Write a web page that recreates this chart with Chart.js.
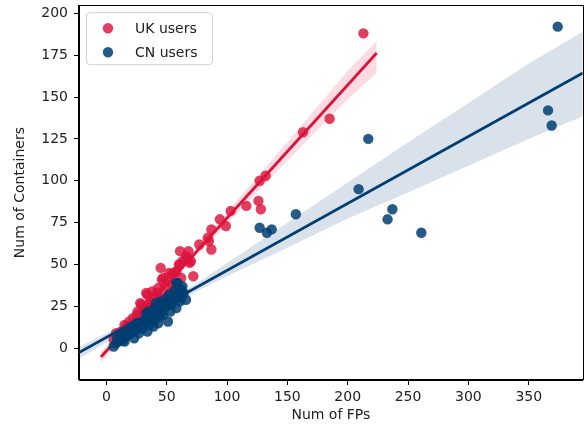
<!DOCTYPE html>
<html>
<head>
<meta charset="utf-8">
<script src="https://cdn.jsdelivr.net/npm/chart.js@4.4.1/dist/chart.umd.min.js"></script>
<style>
  html, body { margin: 0; padding: 0; background: #fff; }
  #wrap { width: 588px; height: 432px; }
</style>
</head>
<body>
<div id="wrap"><canvas id="c" width="588" height="432"></canvas></div>
<script>
// Number of false positives vs number of containers, per user group
const ukUsers = [
  [213,188],[185,137],[163,129],[132,103],[127,100],[126,88],[128,83],[116,85],
  [103,82],[94,77],[99,73],[87,71],[84,66],[85,64],[77,62],[87,59],[67,54],
  [61,58],[68,58],[69,51],[61,50],[45,48],[54,44],[72,43],[63,52],[70,52],
  [47,42],[56,45],[62,42],[43,36],[34,32],[29,26],[46,41],[60,50],[66,55],
  [52,45],[33,33],[28,27],[39,24],[19,16],[17,13],[8,9],[25,20],[22,18],
  [12,10],[15,14],[30,22],[36,28],[40,30],[42,33],[48,36],[50,40],[55,38],
  [58,46],[38,34],[44,30],[32,24],[20,12],[10,7],[6,5],[26,22],[35,26],
  [48,30],[53,33],[57,36]
];
const cnUsers = [
  [374,192],[366,142],[369,133],[217,125],[209,95],[157,80],[237,83],[233,77],
  [261,69],[127,72],[137,71],[133,69],[51,16],
  [59,39],[62,30],[54,26],[46,22],[34,10],[6,1],[14,5],[61,28],[58,39],[44,19],
  [40,17],[36,14],[62,35],[60,33],[57,30],[55,29],[52,28],[50,25],[48,27],
  [46,24],[44,26],[42,22],[40,24],[38,20],[36,18],[34,19],[32,16],[30,15],
  [28,14],[26,12],[24,11],[22,10],[20,9],[18,8],[16,7],[12,6],[10,4],[8,3],
  [25,15],[30,12],[35,22],[45,28],[50,30],[53,22],[56,34],[64,33],[47,20],
  [41,27],[39,13],[27,9],[21,13],[15,4],[33,21],[58,24],[66,29],[63,37],
  [52,32],[43,15],[9,6],[13,8],[18,11],[23,6]
];

// Regression fits and their confidence bands
const ukFitX = [-4.5, 224];
const ukFitY = [-5.2, 176.3];
const ukBandX    = [-4.5, 25, 50, 75, 100, 125, 150, 175, 200, 224];
const ukBandLow  = [-8.5, 16.3, 36.6, 55.4, 74.3, 93.2, 112.0, 130.4, 148.7, 164.5];
const ukBandHigh = [-2.0, 20.3, 39.6, 60.4, 81.3, 102.2, 123.0, 144.4, 165.7, 183.3];

const cnFitX = [-22.7, 394.8];
const cnFitY = [-2.5, 164.3];
const cnBandX    = [-22.7, 0, 25, 50, 75, 100, 150, 200, 250, 300, 350, 394.8];
const cnBandLow  = [-6.0, 3.5, 14.5, 24.8, 34.0, 43.0, 60.0, 77.5, 93.0, 109.0, 125.0, 138.5];
const cnBandHigh = [0.8, 9.0, 18.2, 27.8, 39.0, 51.0, 75.0, 99.0, 123.0, 146.5, 170.0, 189.0];

const xTicks = [0, 50, 100, 150, 200, 250, 300, 350];
const yTicks = [0, 25, 50, 75, 100, 125, 150, 175, 200];
const seriesNames = ['UK users', 'CN users'];

const RED = 'rgb(220,20,60)';
const RED_PT = 'rgba(220,20,60,0.82)';
const RED_BAND = 'rgba(220,20,60,0.15)';
const BLUE = 'rgb(0,62,114)';
const BLUE_PT = 'rgba(0,62,114,0.85)';
const BLUE_BAND = 'rgba(0,62,114,0.15)';
const FONT = 'DejaVu Sans';

const toXY = arr => arr.map(p => ({ x: p[0], y: p[1] }));
const zipXY = (xs, ys) => xs.map((x, i) => ({ x, y: ys[i] }));

function scatterSet(label, pts, color, order) {
  return { type: 'scatter', label, data: toXY(pts), backgroundColor: color,
    borderWidth: 0, pointRadius: 5.2, pointHoverRadius: 5.2, order };
}
function bandEdge(xs, ys, color, fill, order) {
  return { type: 'line', label: '', data: zipXY(xs, ys), borderWidth: 0,
    borderColor: 'rgba(0,0,0,0)', pointRadius: 0, backgroundColor: color,
    fill, tension: 0, order };
}
function fitLine(xs, ys, color, order) {
  return { type: 'line', label: '', data: zipXY(xs, ys), borderColor: color,
    borderWidth: 2.8, pointRadius: 0, fill: false, tension: 0, order };
}

// Frame on all four sides of the plot area
const framePlugin = {
  id: 'frame',
  afterDatasetsDraw(chart) {
    const { ctx, chartArea: a } = chart;
    ctx.save();
    ctx.strokeStyle = '#000';
    ctx.lineWidth = 1;
    ctx.strokeRect(Math.round(a.left) - 0.5, Math.round(a.top) + 0.5,
      Math.round(a.right - a.left) + 1, Math.round(a.bottom - a.top) - 1);
    ctx.restore();
  }
};

// Boxed legend in the upper-left corner of the plot area
const legendPlugin = {
  id: 'boxLegend',
  afterDraw(chart) {
    const { ctx, chartArea: a } = chart;
    const colors = [RED_PT, BLUE_PT];
    const x0 = a.left + 7, y0 = a.top + 7, w = 126, h = 52, r = 4;
    ctx.save();
    ctx.beginPath();
    ctx.roundRect(x0 + 0.5, y0 + 0.5, w, h, r);
    ctx.fillStyle = 'rgba(255,255,255,0.85)';
    ctx.fill();
    ctx.strokeStyle = '#d0d0d0';
    ctx.lineWidth = 1;
    ctx.stroke();
    ctx.font = '14px "' + FONT + '"';
    ctx.textBaseline = 'middle';
    seriesNames.forEach((name, i) => {
      const cy = y0 + 16 + i * 24;
      ctx.beginPath();
      ctx.arc(x0 + 22, cy, 5.2, 0, Math.PI * 2);
      ctx.fillStyle = colors[i];
      ctx.fill();
      ctx.fillStyle = '#222';
      ctx.fillText(name, x0 + 49, cy + 1);
    });
    ctx.restore();
  }
};

new Chart(document.getElementById('c'), {
  data: {
    datasets: [
      scatterSet(seriesNames[0], ukUsers, RED_PT, 10),
      bandEdge(ukBandX, ukBandLow, RED_BAND, false, 9),
      bandEdge(ukBandX, ukBandHigh, RED_BAND, '-1', 8),
      fitLine(ukFitX, ukFitY, RED, 7),
      scatterSet(seriesNames[1], cnUsers, BLUE_PT, 6),
      bandEdge(cnBandX, cnBandLow, BLUE_BAND, false, 5),
      bandEdge(cnBandX, cnBandHigh, BLUE_BAND, '-1', 4),
      fitLine(cnFitX, cnFitY, BLUE, 3)
    ]
  },
  options: {
    responsive: false,
    animation: false,
    events: [],
    layout: { padding: { left: 0, right: 1, top: 5, bottom: 0 } },
    plugins: { legend: { display: false }, tooltip: { enabled: false } },
    scales: {
      x: {
        type: 'linear', min: -22.7, max: 394.8,
        afterBuildTicks: s => { s.ticks = xTicks.map(v => ({ value: v })); },
        afterFit: s => { s.height = 52; s.paddingLeft = 0; s.paddingRight = 0; },
        grid: { drawOnChartArea: false, drawTicks: true, tickLength: 5, tickColor: '#000', tickWidth: 1 },
        border: { display: true, color: '#000', width: 1 },
        ticks: { color: '#222', font: { family: FONT, size: 14 }, padding: 4, maxRotation: 0 },
        title: { display: true, text: 'Num of FPs', color: '#222',
          font: { family: FONT, size: 14 }, padding: { top: 0, bottom: 8 } }
      },
      y: {
        type: 'linear', min: -18.9, max: 204.8,
        afterBuildTicks: s => { s.ticks = yTicks.map(v => ({ value: v })); },
        afterFit: s => { s.width = 79; s.paddingTop = 0; s.paddingBottom = 0; },
        grid: { drawOnChartArea: false, drawTicks: true, tickLength: 5, tickColor: '#000', tickWidth: 1 },
        border: { display: true, color: '#000', width: 1 },
        ticks: { color: '#222', font: { family: FONT, size: 14 }, padding: 6 },
        title: { display: true, text: 'Num of Containers', color: '#222',
          font: { family: FONT, size: 14 }, padding: { top: 12, bottom: 0 } }
      }
    }
  },
  plugins: [framePlugin, legendPlugin]
});
</script>
</body>
</html>
